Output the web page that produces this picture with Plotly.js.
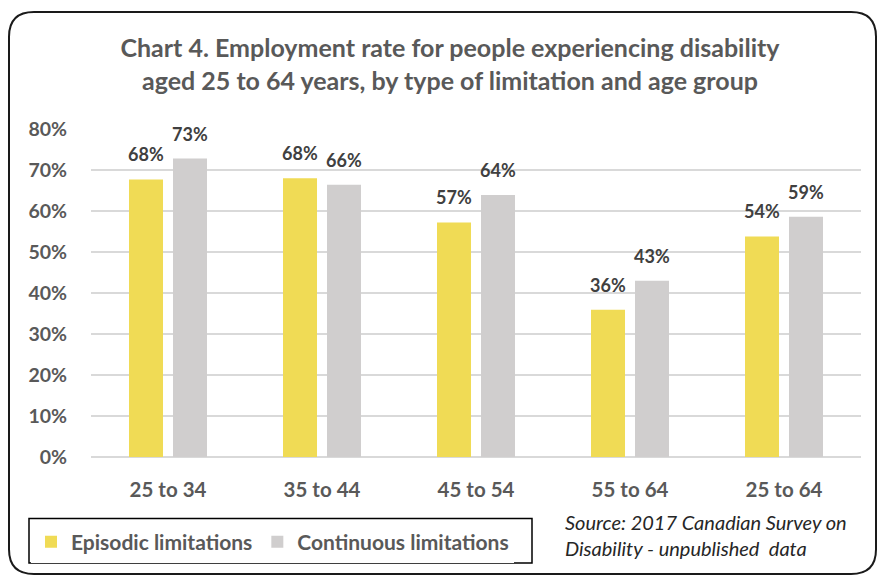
<!DOCTYPE html>
<html>
<head>
<meta charset="utf-8">
<script src="https://cdn.plot.ly/plotly-3.0.1.min.js"></script>
<style>html,body{margin:0;padding:0;background:#fff;}#chart{width:877px;height:575px;}</style>
</head>
<body>
<div id="chart"></div>
<script>
const categories = ["25 to 34", "35 to 44", "45 to 54", "55 to 64", "25 to 64"];
const episodic = [67.7, 68.0, 57.2, 35.9, 53.8];
const continuous = [72.8, 66.4, 63.9, 43.0, 58.6];
const yTickVals = [0, 10, 20, 30, 40, 50, 60, 70, 80];
const yTickText = ["0%", "10%", "20%", "30%", "40%", "50%", "60%", "70%", "80%"];
const seriesNames = ["Episodic limitations", "Continuous limitations"];

const FONT = "Lato, 'Open Sans', sans-serif";
const labelFont = {family: FONT, size: 18, color: "#404040", weight: 700};

const traces = [
  {
    type: "bar", name: seriesNames[0], x: categories, y: episodic,
    marker: {color: "#F0DB55"}, hoverinfo: "skip"
  },
  {
    type: "bar", name: seriesNames[1], x: categories, y: continuous,
    marker: {color: "#D0CECE"}, hoverinfo: "skip"
  }
];

const L = 91, R = 861, T = 129, B = 460;
const pw = R - L, ph = B - T;
const px = v => (v - L) / pw;
const py = v => (B - v) / ph;

// value labels placed on the bars through the axes
const barOffset = 22;
const valueLabels = [];
[episodic, continuous].forEach((series, s) => {
  series.forEach((v, i) => {
    valueLabels.push({
      xref: "x", yref: "y", x: categories[i], y: v,
      xshift: s === 0 ? -barOffset : barOffset, yshift: 12,
      yanchor: "bottom", xanchor: "center", showarrow: false,
      text: Math.round(v) + "%", font: labelFont
    });
  });
});

// rounded outer border path in paper coords
const x0 = px(9), x1 = px(876), y0 = py(11), y1 = py(578);
const rx = 25 / pw, ry = 25 / ph;
const borderPath = `M ${x0} ${y1 + ry} L ${x0} ${y0 - ry} Q ${x0} ${y0} ${x0 + rx} ${y0} L ${x1 - rx} ${y0} Q ${x1} ${y0} ${x1} ${y0 - ry} L ${x1} ${y1 + ry} Q ${x1} ${y1} ${x1 - rx} ${y1} L ${x0 + rx} ${y1} Q ${x0} ${y1} ${x0} ${y1 + ry} Z`;

const layout = {
  width: 877, height: 575,
  margin: {l: L, r: 877 - R, t: T, b: 575 - B},
  paper_bgcolor: "#ffffff", plot_bgcolor: "#ffffff",
  font: {family: FONT, color: "#595959"},
  title: {
    text: "Chart 4. Employment rate for people experiencing disability<br>aged 25 to 64 years, by type of limitation and age group",
    font: {family: FONT, size: 25, color: "#595959", weight: 700},
    x: 450 / 877, xanchor: "center", xref: "container",
    y: 1 - 57 / 575, yanchor: "top", yref: "container"
  },
  barmode: "group",
  bargap: 0.4286,
  bargroupgap: 0.227,
  showlegend: true,
  legend: {
    orientation: "h",
    x: px(31), xanchor: "left",
    y: py(546), yanchor: "middle",
    borderwidth: 0,
    font: {family: FONT, size: 21, color: "#595959", weight: 700},
    itemwidth: 30,
    traceorder: "normal"
  },
  xaxis: {
    type: "category",
    range: [-0.5, 4.5],
    showgrid: false, zeroline: false, showline: false,
    ticks: "", ticklabelstandoff: 18,
    tickfont: {family: FONT, size: 20.5, color: "#595959", weight: 700},
    fixedrange: true
  },
  yaxis: {
    range: [0, 80],
    tickvals: yTickVals, ticktext: yTickText,
    showgrid: true, gridcolor: "#D9D9D9", gridwidth: 1.5,
    zeroline: true, zerolinecolor: "#D9D9D9", zerolinewidth: 1.5,
    showline: false, ticks: "", ticklabelstandoff: 23,
    tickfont: {family: FONT, size: 19.5, color: "#595959", weight: 700},
    fixedrange: true
  },
  annotations: valueLabels.concat([
    {
      xref: "paper", yref: "paper",
      x: px(563), xanchor: "left",
      y: py(511), yanchor: "top",
      align: "left", showarrow: false,
      text: "<i>Source: 2017 Canadian Survey on<br>Disability - unpublished  data</i>",
      font: {family: FONT, size: 20, color: "#262626"}
    }
  ]),
  shapes: [
    {
      type: "path", xref: "paper", yref: "paper",
      path: borderPath,
      line: {color: "#1a1a1a", width: 2},
      fillcolor: "rgba(0,0,0,0)",
      layer: "below"
    },
    {
      type: "rect", xref: "paper", yref: "paper",
      x0: px(29), x1: px(532), y0: py(522), y1: py(567),
      line: {color: "#000000", width: 1.5},
      fillcolor: "rgba(0,0,0,0)",
      layer: "above"
    }
  ]
};

Plotly.newPlot("chart", traces, layout, {displayModeBar: false, staticPlot: true});
</script>
</body>
</html>
